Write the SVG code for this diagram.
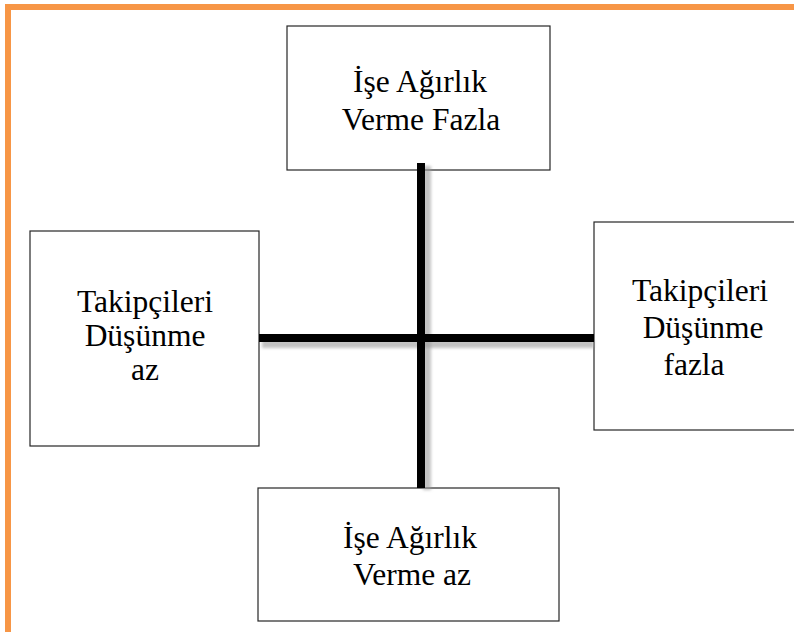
<svg xmlns="http://www.w3.org/2000/svg" width="794" height="632" viewBox="0 0 794 632">
  <defs>
    <style>
      .box { fill: #ffffff; stroke: #262626; stroke-width: 1.2; }
      .lbl { font-family: "Liberation Serif", "Times New Roman", serif; font-size: 31.5px; fill: #000000; text-anchor: middle; }
      .axis { stroke: #000000; stroke-width: 8; fill: none; }
      .axis-shadow { stroke: #9a9a9a; stroke-width: 8; fill: none; opacity: 0.6; }
      .frame { stroke: #F79646; stroke-width: 6; fill: none; }
    </style>
    <filter id="soft" x="-20%" y="-20%" width="140%" height="140%">
      <feGaussianBlur stdDeviation="1.6"/>
    </filter>
  </defs>

  <rect width="794" height="632" fill="#ffffff"/>

  <!-- page frame -->
  <path class="frame" d="M8 632 V7 H794"/>

  <g id="node-top">
    <rect class="box" x="287" y="26" width="263" height="144"/>
    <text class="lbl" x="420" y="92">İşe Ağırlık</text>
    <text class="lbl" x="421" y="130">Verme Fazla</text>
  </g>

  <g id="node-left">
    <rect class="box" x="30" y="231" width="229" height="215"/>
    <text class="lbl" x="145" y="312">Takipçileri</text>
    <text class="lbl" x="145" y="346">Düşünme</text>
    <text class="lbl" x="145" y="380">az</text>
  </g>

  <g id="node-right">
    <rect class="box" x="594" y="222" width="205" height="208"/>
    <text class="lbl" x="700" y="301">Takipçileri</text>
    <text class="lbl" x="703" y="338">Düşünme</text>
    <text class="lbl" x="694" y="375">fazla</text>
  </g>

  <g id="node-bottom">
    <rect class="box" x="258" y="488" width="301" height="133"/>
    <text class="lbl" x="410" y="548">İşe Ağırlık</text>
    <text class="lbl" x="412" y="585">Verme az</text>
  </g>

  <!-- cross axes, drawn over the box edges they touch -->
  <g id="connectors">
    <g filter="url(#soft)">
      <line class="axis-shadow" x1="262" y1="344" x2="594" y2="344"/>
      <line class="axis-shadow" x1="427" y1="166" x2="427" y2="490"/>
    </g>
    <line class="axis" x1="259" y1="338" x2="594" y2="338"/>
    <line class="axis" x1="421" y1="163" x2="421" y2="488"/>
  </g>
</svg>
